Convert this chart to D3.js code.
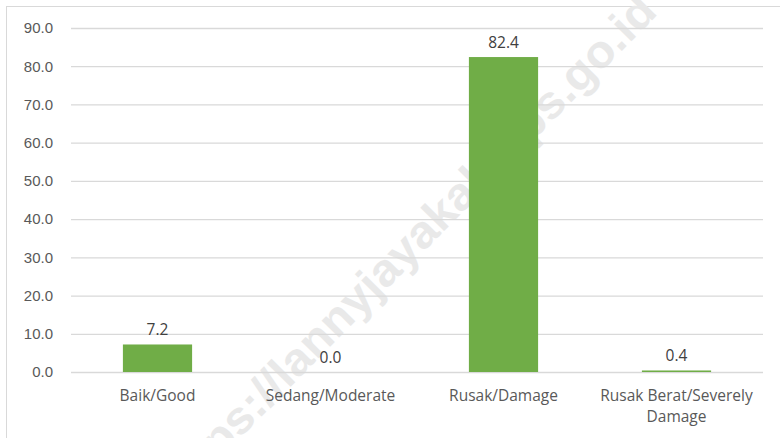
<!DOCTYPE html>
<html>
<head>
<meta charset="utf-8">
<script src="https://cdn.jsdelivr.net/npm/d3@7"></script>
<style>
  body { margin: 0; background: #fff; }
  svg { display: block; font-family: 'Open Sans', sans-serif; }
</style>
</head>
<body>
<script>
const categories = ['Baik/Good', 'Sedang/Moderate', 'Rusak/Damage', 'Rusak Berat/Severely Damage'];
const values = [7.2, 0.0, 82.4, 0.4];
const yTicks = [0, 10, 20, 30, 40, 50, 60, 70, 80, 90];

const box = {
  width: 780, height: 438,
  margin: { top: 28, right: 17, bottom: 66, left: 71 }
};
box.innerWidth = box.width - box.margin.left - box.margin.right;
box.innerHeight = box.height - box.margin.top - box.margin.bottom;

const svg = d3.select('body').append('svg')
  .attr('width', box.width)
  .attr('height', box.height);

svg.append('rect')
  .attr('x', 6.5).attr('y', 6.5)
  .attr('width', box.width).attr('height', box.height)
  .attr('fill', 'none')
  .attr('stroke', '#d9d9d9');

// watermark
svg.append('text')
  .attr('transform', 'translate(406,247) rotate(-45.4)')
  .attr('text-anchor', 'middle')
  .attr('dominant-baseline', 'central')
  .attr('textLength', 688)
  .attr('lengthAdjust', 'spacingAndGlyphs')
  .style('font-family', 'Liberation Sans, Arial, sans-serif')
  .style('font-weight', 'bold')
  .style('font-size', '46px')
  .attr('fill', '#e9e9e9')
  .text('https://lannyjayakab.bps.go.id');

const g = svg.append('g')
  .attr('transform', `translate(${box.margin.left}, ${box.margin.top})`);

const x = d3.scaleBand()
  .domain(categories)
  .range([0, box.innerWidth])
  .paddingInner(0.6)
  .paddingOuter(0.3);

const y = d3.scaleLinear()
  .domain([0, 90])
  .range([box.innerHeight, 0]);

const yAxis = d3.axisLeft(y)
  .tickValues(yTicks)
  .tickFormat(d3.format('.1f'))
  .tickSize(-box.innerWidth)
  .tickPadding(18);

g.append('g')
  .attr('class', 'axis axis--y')
  .call(yAxis)
  .call(a => a.select('.domain').remove())
  .call(a => a.selectAll('line').attr('stroke', '#d9d9d9').attr('stroke-width', 1.3))
  .call(a => a.selectAll('text').attr('fill', '#595959').style('font-size', '15px'));

g.selectAll('.bar')
  .data(values)
  .join('rect')
  .attr('class', 'bar')
  .attr('x', (d, i) => x(categories[i]))
  .attr('y', d => y(d))
  .attr('width', x.bandwidth())
  .attr('height', d => box.innerHeight - y(d))
  .attr('fill', '#70ad47');

g.selectAll('.value')
  .data(values)
  .join('text')
  .attr('class', 'value')
  .attr('x', (d, i) => x(categories[i]) + x.bandwidth() / 2)
  .attr('y', d => y(d) - 9)
  .attr('text-anchor', 'middle')
  .attr('fill', '#404040')
  .style('font-size', '15.5px')
  .text(d => d.toFixed(1));

const xAxis = d3.axisBottom(x).tickSize(0).tickPadding(0);

g.append('g')
  .attr('class', 'axis axis--x')
  .attr('transform', `translate(0, ${box.innerHeight})`)
  .call(xAxis)
  .call(a => a.select('.domain').remove())
  .call(a => a.selectAll('.tick text').remove());

const labels = g.selectAll('.xlabel')
  .data(categories)
  .join('text')
  .attr('class', 'xlabel')
  .attr('x', d => x(d) + x.bandwidth() / 2)
  .attr('y', box.innerHeight + 29)
  .attr('text-anchor', 'middle')
  .attr('fill', '#595959')
  .style('font-size', '15.5px');

labels.each(function(d) {
  const t = d3.select(this);
  const lines = d === 'Rusak Berat/Severely Damage' ? ['Rusak Berat/Severely', 'Damage'] : [d];
  lines.forEach((line, i) => {
    t.append('tspan')
      .attr('x', x(d) + x.bandwidth() / 2)
      .attr('dy', i === 0 ? 0 : 21)
      .text(line);
  });
});
</script>
</body>
</html>
